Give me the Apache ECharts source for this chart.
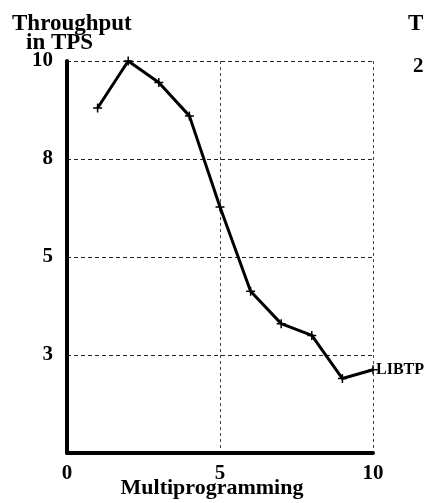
<!DOCTYPE html>
<html>
<head>
<meta charset="utf-8">
<script src="https://cdn.jsdelivr.net/npm/echarts@6/dist/echarts.min.js"></script>
<style>
html,body{margin:0;padding:0;background:#fff;}
#chart{width:424px;height:503px;}
</style>
</head>
<body>
<div id="chart"></div>
<script>
// Multiprogramming level (x)
var multiprogramming = [1, 2, 3, 4, 5, 6, 7, 8, 9, 10];
// Throughput, in axis position units (gridline index 0..4)
var throughputPos = [3.52, 4.0, 3.78, 3.44, 2.51, 1.65, 1.32, 1.20, 0.76, 0.85];
// Y tick labels at gridline positions 0..4
var yTickLabels = ["", "3", "5", "8", "10"];
// X tick labels
var xTickValues = [0, 5, 10];
var seriesName = "LIBTP";

var FONT = "'Liberation Serif', 'DejaVu Serif', serif";
var chart = echarts.init(document.getElementById('chart'), null, {renderer: 'canvas'});

var data = multiprogramming.map(function (x, i) { return [x, throughputPos[i]]; });

var option = {
  backgroundColor: '#fff',
  animation: false,
  grid: {left: 67, top: 61, right: 51, bottom: 50, containLabel: false, outerBoundsMode: 'none'},
  xAxis: {
    type: 'value', min: 0, max: 10, interval: 5,
    name: 'Multiprogramming', nameLocation: 'middle', nameGap: 24, nameMoveOverlap: false,
    nameTextStyle: {fontFamily: FONT, fontWeight: 'bold', fontSize: 22, color: '#000', verticalAlign: 'top', padding: [0, 16, 0, 0]},
    axisLine: {show: true, lineStyle: {color: '#000', width: 4}},
    axisTick: {show: false},
    axisLabel: {
      margin: 10, fontFamily: FONT, fontWeight: 'bold', fontSize: 21, color: '#000',
      formatter: function (v) { return xTickValues.indexOf(v) >= 0 ? String(v) : ''; }
    },
    splitLine: {show: true, lineStyle: {color: '#444', width: 1, type: [3, 3]}}
  },
  yAxis: {
    type: 'value', min: 0, max: 4, interval: 1,
    axisLine: {show: true, lineStyle: {color: '#000', width: 4}},
    axisTick: {show: false},
    axisLabel: {
      margin: 14, fontFamily: FONT, fontWeight: 'bold', fontSize: 21, color: '#000',
      formatter: function (v) { return yTickLabels[Math.round(v)] || ''; }
    },
    splitLine: {show: true, lineStyle: {color: '#222', width: 1, type: [4, 3]}}
  },
  graphic: [
    {type: 'text', left: 12, top: 13, style: {text: 'Throughput', font: 'bold 23px ' + FONT, fill: '#000'}},
    {type: 'text', left: 26, top: 32, style: {text: 'in TPS', font: 'bold 23px ' + FONT, fill: '#000'}},
    {type: 'text', left: 408, top: 13, style: {text: 'Throughput', font: 'bold 23px ' + FONT, fill: '#000'}},
    {type: 'text', left: 413, top: 56, style: {text: '20', font: 'bold 21px ' + FONT, fill: '#000'}}
  ],
  series: [{
    name: seriesName,
    type: 'line',
    data: data,
    symbol: 'path://M4,0h1.6v4h4v1.6h-4v4h-1.6v-4h-4v-1.6h4z',
    symbolSize: 9,
    itemStyle: {color: '#000'},
    lineStyle: {color: '#000', width: 3},
    endLabel: {
      show: true, formatter: seriesName, distance: 3,
      fontFamily: FONT, fontWeight: 'bold', fontSize: 16, color: '#000'
    }
  }]
};
chart.setOption(option);
</script>
</body>
</html>
